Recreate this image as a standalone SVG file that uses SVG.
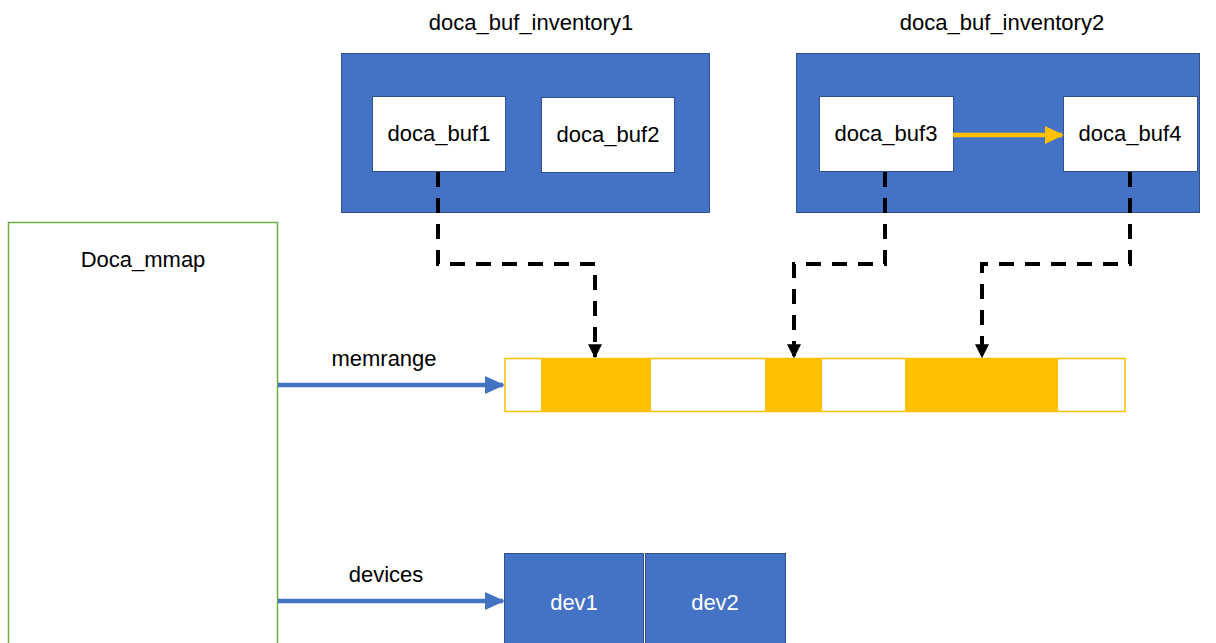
<svg xmlns="http://www.w3.org/2000/svg" width="1216" height="643" viewBox="0 0 1216 643">
<style>
text{font-family:"Liberation Sans",Arial,sans-serif;font-size:22px;fill:#000;text-anchor:middle}
.inv{fill:#4472C4;stroke:#2F528F;stroke-width:1}
.buf{fill:#fff;stroke:#2F528F;stroke-width:1}
.dash{fill:none;stroke:#000;stroke-width:4;stroke-dasharray:15 11}
.blue{stroke:#4472C4;stroke-width:4.5;fill:none}
.wt{fill:#fff}
.seg{stroke:none}
</style>
<defs>
<marker id="ab" markerWidth="4.4" markerHeight="4" refX="4" refY="2" orient="auto" markerUnits="strokeWidth"><path d="M0,0 L4.4,2 L0,4 z" fill="#4472C4"/></marker>
<marker id="ay" markerWidth="4.2" markerHeight="4" refX="3.8" refY="2" orient="auto" markerUnits="strokeWidth"><path d="M0,0 L4.2,2 L0,4 z" fill="#FFC000"/></marker>
<marker id="ak" markerWidth="3.5" markerHeight="3.5" refX="3.2" refY="1.75" orient="auto" markerUnits="strokeWidth"><path d="M0,0 L3.5,1.75 L0,3.5 z" fill="#000"/></marker>
</defs>

<g id="title1"><text x="531" y="30">doca_buf_inventory1</text></g>
<g id="title2"><text x="1002" y="30">doca_buf_inventory2</text></g>

<g id="inventory1"><rect class="inv" x="341.5" y="53.5" width="368" height="159"/></g>
<g id="inventory2"><rect class="inv" x="796.5" y="53.5" width="403" height="159"/></g>

<g id="doca_buf1"><rect class="buf" x="372.5" y="96.5" width="133" height="75"/><text x="439" y="141">doca_buf1</text></g>
<g id="doca_buf2"><rect class="buf" x="541.5" y="97.5" width="133" height="75"/><text x="608" y="142">doca_buf2</text></g>
<g id="doca_buf3"><rect class="buf" x="819.5" y="96.5" width="134" height="75"/><text x="886" y="141">doca_buf3</text></g>
<g id="doca_buf4"><rect class="buf" x="1063.5" y="96.5" width="134" height="75"/><text x="1130" y="141">doca_buf4</text></g>

<g id="doca_mmap"><rect x="8.5" y="222.5" width="269" height="440" fill="#fff" stroke="#70AD47" stroke-width="1.5"/><text x="143" y="267">Doca_mmap</text></g>

<g id="memrange_bar">
<rect x="505" y="358.5" width="620" height="53" fill="#fff" stroke="#FFC000" stroke-width="1.5"/>
<rect class="seg" x="541" y="358" width="110" height="54" fill="#FFC000"/>
<rect class="seg" x="765" y="358" width="57" height="54" fill="#FFC000"/>
<rect class="seg" x="905" y="358" width="153" height="54" fill="#FFC000"/>
</g>

<g id="dev1"><rect class="inv" x="504.5" y="553.5" width="139" height="100"/><text class="wt" x="574" y="610">dev1</text></g>
<g id="dev2"><rect class="inv" x="645.5" y="553.5" width="140" height="100"/><text class="wt" x="715" y="610">dev2</text></g>

<g id="connectors">
<line x1="953" y1="135" x2="1062" y2="135" stroke="#FFC000" stroke-width="4.5" marker-end="url(#ay)"/>
<path class="dash" d="M438,172 V264 H595 V357" marker-end="url(#ak)"/>
<path class="dash" d="M885,172 V264 H794 V357" marker-end="url(#ak)"/>
<path class="dash" d="M1130,172 V264 H982 V357" marker-end="url(#ak)"/>
<line class="blue" x1="278" y1="385" x2="503" y2="385" marker-end="url(#ab)"/>
<line class="blue" x1="278" y1="601" x2="503" y2="601" marker-end="url(#ab)"/>
<text x="384" y="366">memrange</text>
<text x="386" y="582">devices</text>
</g>
</svg>
